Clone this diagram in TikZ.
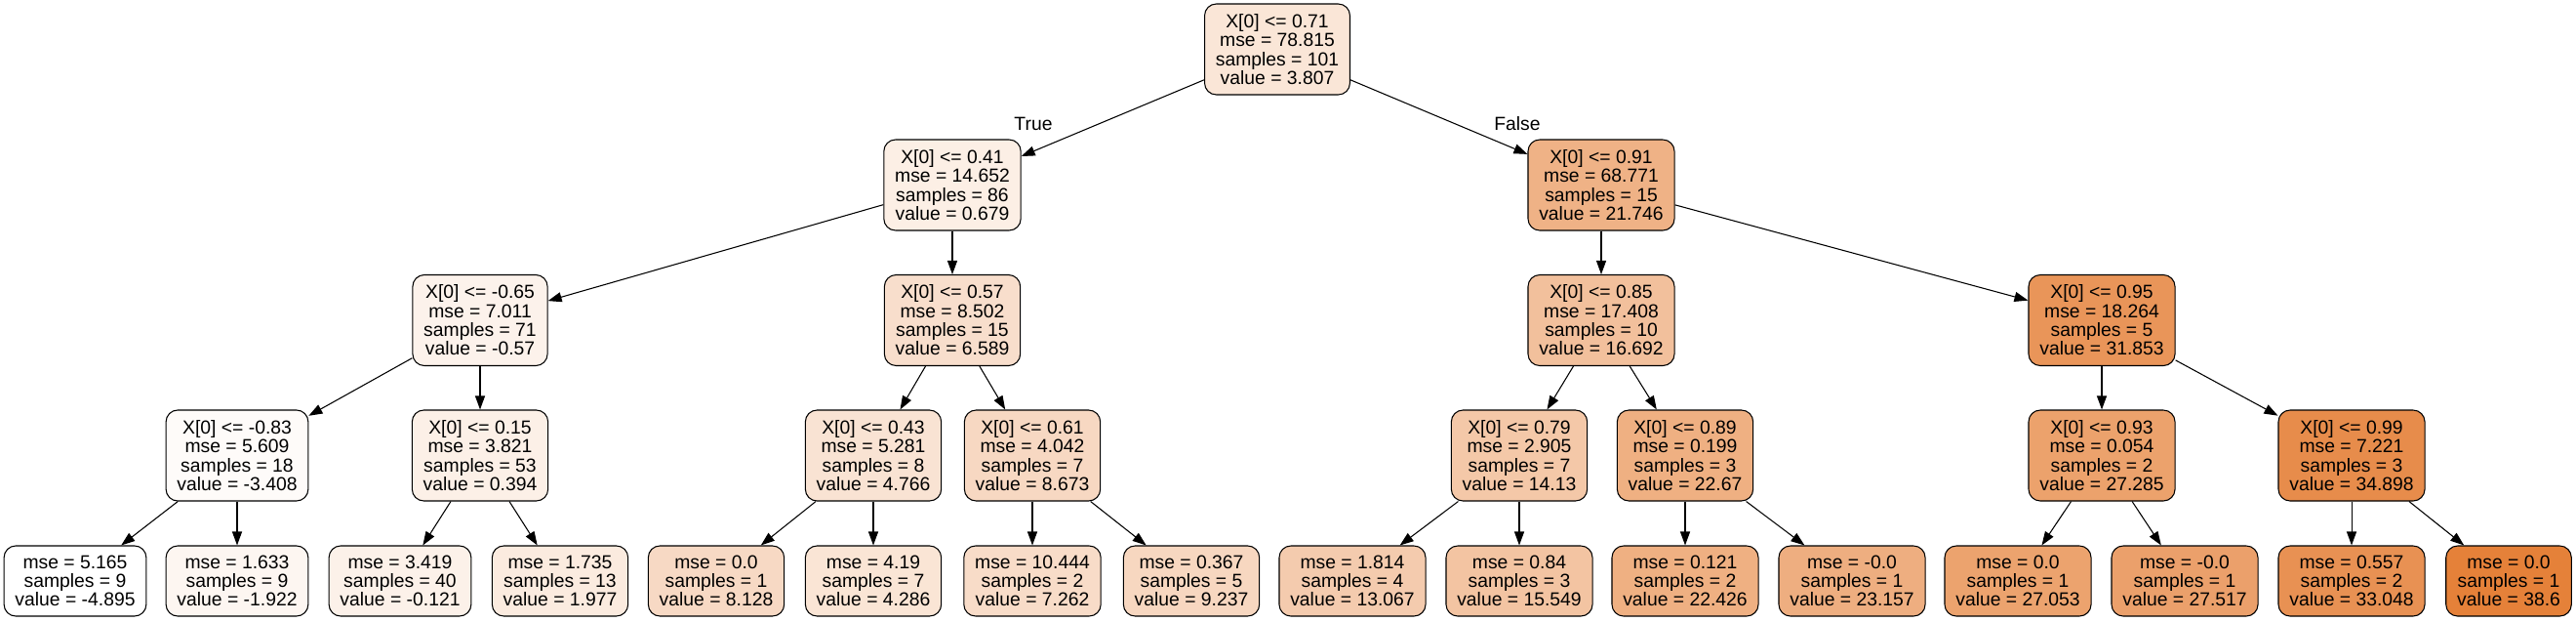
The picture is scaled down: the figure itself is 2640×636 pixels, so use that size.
\documentclass[tikz,border=0pt]{standalone}
\usepackage{fontspec}
\setmainfont{Liberation Sans}
\usetikzlibrary{arrows.meta}
\definecolor{treeorange}{RGB}{229,129,57}

\begin{document}
\begin{tikzpicture}[x=0.75pt,y=-0.75pt,
    splitnode/.style={draw, line width=0.8pt, rounded corners=9pt, align=center, inner xsep=8.5pt,
        minimum height=69.75pt, font=\fontsize{14.5}{14.5}\selectfont},
    leafnode/.style={splitnode, minimum height=54pt},
    arr/.style={-{Triangle[length=10.5pt,width=7.5pt]}, line width=0.8pt},
    branch/.style={font=\fontsize{14.5}{14.5}\selectfont}]
                % 定义各层的纵坐标 (像素)
                \pgfmathsetmacro{\ya}{50.5}
                \pgfmathsetmacro{\yb}{189.5}
                \pgfmathsetmacro{\yc}{328}
                \pgfmathsetmacro{\yd}{466.5}
                \pgfmathsetmacro{\ye}{595}

                \useasboundingbox (0,0) rectangle (2640,636);

                % 根节点
                \node[splitnode, fill=treeorange!20] (root) at (1309,\ya) {X[0] <= 0.71\\mse = 78.815\\samples = 101\\value = 3.807};

                % 第一层
                \node[splitnode, fill=treeorange!13] (sa) at (976,\yb) {X[0] <= 0.41\\mse = 14.652\\samples = 86\\value = 0.679};
                \node[splitnode, fill=treeorange!61] (sb) at (1641,\yb) {X[0] <= 0.91\\mse = 68.771\\samples = 15\\value = 21.746};

                % 第二层
                \node[splitnode, fill=treeorange!10] (saa) at (492,\yc) {X[0] <= -0.65\\mse = 7.011\\samples = 71\\value = -0.57};
                \node[splitnode, fill=treeorange!26] (sab) at (976,\yc) {X[0] <= 0.57\\mse = 8.502\\samples = 15\\value = 6.589};
                \node[splitnode, fill=treeorange!50] (sba) at (1641,\yc) {X[0] <= 0.85\\mse = 17.408\\samples = 10\\value = 16.692};
                \node[splitnode, fill=treeorange!84] (sbb) at (2154,\yc) {X[0] <= 0.95\\mse = 18.264\\samples = 5\\value = 31.853};

                % 第三层
                \node[splitnode, fill=treeorange!3] (saaa) at (243,\yd) {X[0] <= -0.83\\mse = 5.609\\samples = 18\\value = -3.408};
                \node[splitnode, fill=treeorange!12] (saab) at (492,\yd) {X[0] <= 0.15\\mse = 3.821\\samples = 53\\value = 0.394};
                \node[splitnode, fill=treeorange!22] (saba) at (895,\yd) {X[0] <= 0.43\\mse = 5.281\\samples = 8\\value = 4.766};
                \node[splitnode, fill=treeorange!31] (sabb) at (1058,\yd) {X[0] <= 0.61\\mse = 4.042\\samples = 7\\value = 8.673};
                \node[splitnode, fill=treeorange!44] (sbaa) at (1557,\yd) {X[0] <= 0.79\\mse = 2.905\\samples = 7\\value = 14.13};
                \node[splitnode, fill=treeorange!63] (sbab) at (1727,\yd) {X[0] <= 0.89\\mse = 0.199\\samples = 3\\value = 22.67};
                \node[splitnode, fill=treeorange!74] (sbba) at (2154,\yd) {X[0] <= 0.93\\mse = 0.054\\samples = 2\\value = 27.285};
                \node[splitnode, fill=treeorange!91] (sbbb) at (2410,\yd) {X[0] <= 0.99\\mse = 7.221\\samples = 3\\value = 34.898};

                % 叶节点
                \node[leafnode, fill=white] (la) at (77,\ye) {mse = 5.165\\samples = 9\\value = -4.895};
                \node[leafnode, fill=treeorange!7] (lb) at (243,\ye) {mse = 1.633\\samples = 9\\value = -1.922};
                \node[leafnode, fill=treeorange!11] (lc) at (410,\ye) {mse = 3.419\\samples = 40\\value = -0.121};
                \node[leafnode, fill=treeorange!16] (ld) at (574,\ye) {mse = 1.735\\samples = 13\\value = 1.977};
                \node[leafnode, fill=treeorange!30] (le) at (734,\ye) {mse = 0.0\\samples = 1\\value = 8.128};
                \node[leafnode, fill=treeorange!21] (lf) at (895,\ye) {mse = 4.19\\samples = 7\\value = 4.286};
                \node[leafnode, fill=treeorange!28] (lg) at (1058,\ye) {mse = 10.444\\samples = 2\\value = 7.262};
                \node[leafnode, fill=treeorange!32] (lh) at (1221,\ye) {mse = 0.367\\samples = 5\\value = 9.237};
                \node[leafnode, fill=treeorange!41] (li) at (1386,\ye) {mse = 1.814\\samples = 4\\value = 13.067};
                \node[leafnode, fill=treeorange!47] (lj) at (1557,\ye) {mse = 0.84\\samples = 3\\value = 15.549};
                \node[leafnode, fill=treeorange!63] (lk) at (1727,\ye) {mse = 0.121\\samples = 2\\value = 22.426};
                \node[leafnode, fill=treeorange!64] (ll) at (1898,\ye) {mse = -0.0\\samples = 1\\value = 23.157};
                \node[leafnode, fill=treeorange!73] (lm) at (2068,\ye) {mse = 0.0\\samples = 1\\value = 27.053};
                \node[leafnode, fill=treeorange!75] (ln) at (2239,\ye) {mse = -0.0\\samples = 1\\value = 27.517};
                \node[leafnode, fill=treeorange!87] (lo) at (2410,\ye) {mse = 0.557\\samples = 2\\value = 33.048};
                \node[leafnode, fill=treeorange] (lp) at (2571,\ye) {mse = 0.0\\samples = 1\\value = 38.6};

                % 绘制连线
                \draw[arr] (root) -- (sa);
                \draw[arr] (root) -- (sb);
                \draw[arr] (sa) -- (saa);
                \draw[arr] (sa) -- (sab);
                \draw[arr] (sb) -- (sba);
                \draw[arr] (sb) -- (sbb);
                \draw[arr] (saa) -- (saaa);
                \draw[arr] (saa) -- (saab);
                \draw[arr] (sab) -- (saba);
                \draw[arr] (sab) -- (sabb);
                \draw[arr] (sba) -- (sbaa);
                \draw[arr] (sba) -- (sbab);
                \draw[arr] (sbb) -- (sbba);
                \draw[arr] (sbb) -- (sbbb);
                \draw[arr] (saaa) -- (la);
                \draw[arr] (saaa) -- (lb);
                \draw[arr] (saab) -- (lc);
                \draw[arr] (saab) -- (ld);
                \draw[arr] (saba) -- (le);
                \draw[arr] (saba) -- (lf);
                \draw[arr] (sabb) -- (lg);
                \draw[arr] (sabb) -- (lh);
                \draw[arr] (sbaa) -- (li);
                \draw[arr] (sbaa) -- (lj);
                \draw[arr] (sbab) -- (lk);
                \draw[arr] (sbab) -- (ll);
                \draw[arr] (sbba) -- (lm);
                \draw[arr] (sbba) -- (ln);
                \draw[arr] (sbbb) -- (lo);
                \draw[arr] (sbbb) -- (lp);

                % 标注分支
                \node[branch] (truelabel) at (1059,127) {True};
                \node[branch] (falselabel) at (1555,127) {False};
\end{tikzpicture}
\end{document}
